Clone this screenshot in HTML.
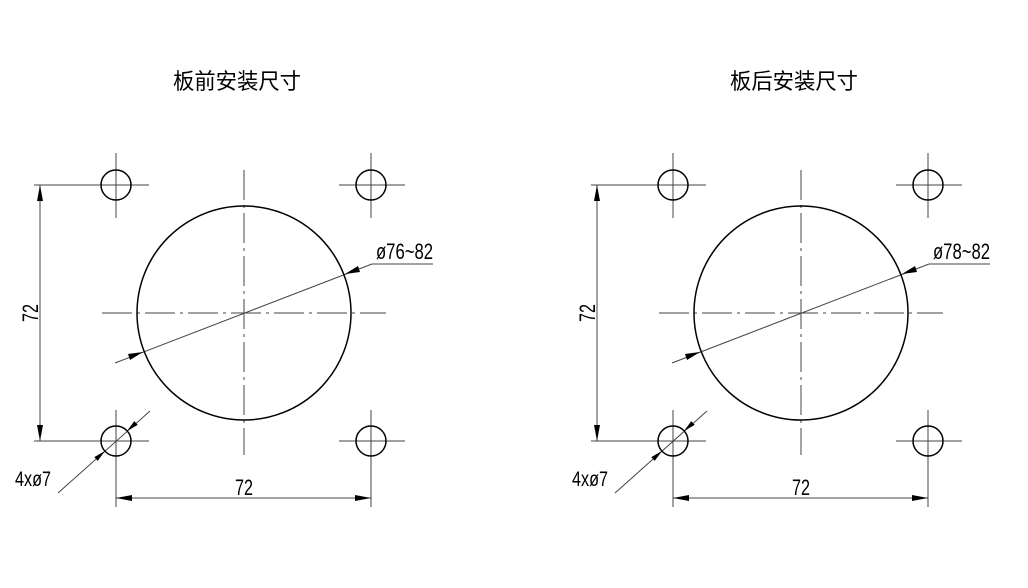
<!DOCTYPE html>
<html><head><meta charset="utf-8"><style>
html,body{margin:0;padding:0;background:#fff;}
svg{display:block}
text{font-family:"Liberation Sans","Noto Sans CJK SC",sans-serif;fill:#000}
</style></head><body>
<svg width="1028" height="588" viewBox="0 0 1028 588" xmlns="http://www.w3.org/2000/svg">
<defs>
<g id="d">
  <g stroke="#444" stroke-width="1" fill="none">
    <line x1="116" y1="153" x2="116" y2="218"/><line x1="34" y1="185" x2="149" y2="185"/>
    <line x1="371" y1="153" x2="371" y2="218"/><line x1="339" y1="185" x2="405" y2="185"/>
    <line x1="116" y1="410" x2="116" y2="507"/><line x1="34" y1="441" x2="149" y2="441"/>
    <line x1="371" y1="410" x2="371" y2="507"/><line x1="339" y1="441" x2="405" y2="441"/>
    <line x1="244" y1="170" x2="244" y2="455" stroke-dasharray="30,5,3,5"/>
    <line x1="102" y1="313" x2="386" y2="313" stroke-dasharray="30,5,3,5"/>
    <line x1="40" y1="185" x2="40" y2="441"/>
    <line x1="116" y1="498" x2="371" y2="498"/>
    <line x1="115" y1="363" x2="372" y2="264"/><line x1="372" y1="264" x2="433" y2="264"/>
    <line x1="150" y1="411" x2="58" y2="493"/>
  </g>
  <g stroke="#000" stroke-width="1.5" fill="none">
    <circle cx="116" cy="185" r="15"/><circle cx="371" cy="185" r="15"/>
    <circle cx="116" cy="441" r="15"/><circle cx="371" cy="441" r="15"/>
    <circle cx="244" cy="313" r="107"/>
  </g>
  <g fill="#000">
    <polygon points="40,185 37,201 43,201"/>
    <polygon points="40,441 37,425 43,425"/>
    <polygon points="116,498 132,495 132,501"/>
    <polygon points="371,498 355,495 355,501"/>
    <polygon points="143,352 128,354 130,360"/>
    <polygon points="345,274 358,266 360,272"/>
    <polygon points="127,431 137.7,424.9 134.3,421.1"/>
    <polygon points="105,451 97.7,460.9 94.3,457.1"/>
  </g>
  <text x="244" y="495" font-size="22" text-anchor="middle" textLength="18" lengthAdjust="spacingAndGlyphs">72</text>
  <text transform="translate(38,313) rotate(-90)" font-size="22" text-anchor="middle" textLength="18" lengthAdjust="spacingAndGlyphs">72</text>
  <text x="15" y="486" font-size="21" textLength="36" lengthAdjust="spacingAndGlyphs">4xø7</text>
</g>
</defs>
<use href="#d"/>
<use href="#d" transform="translate(557,0)"/>
<text x="376" y="259" font-size="22" textLength="57" lengthAdjust="spacingAndGlyphs">ø76~82</text>
<text x="933" y="259" font-size="22" textLength="57" lengthAdjust="spacingAndGlyphs">ø78~82</text>
<text x="237" y="89" font-size="22" text-anchor="middle" textLength="128" lengthAdjust="spacingAndGlyphs">板前安装尺寸</text>
<text x="794" y="89" font-size="22" text-anchor="middle" textLength="128" lengthAdjust="spacingAndGlyphs">板后安装尺寸</text>
</svg>
</body></html>
